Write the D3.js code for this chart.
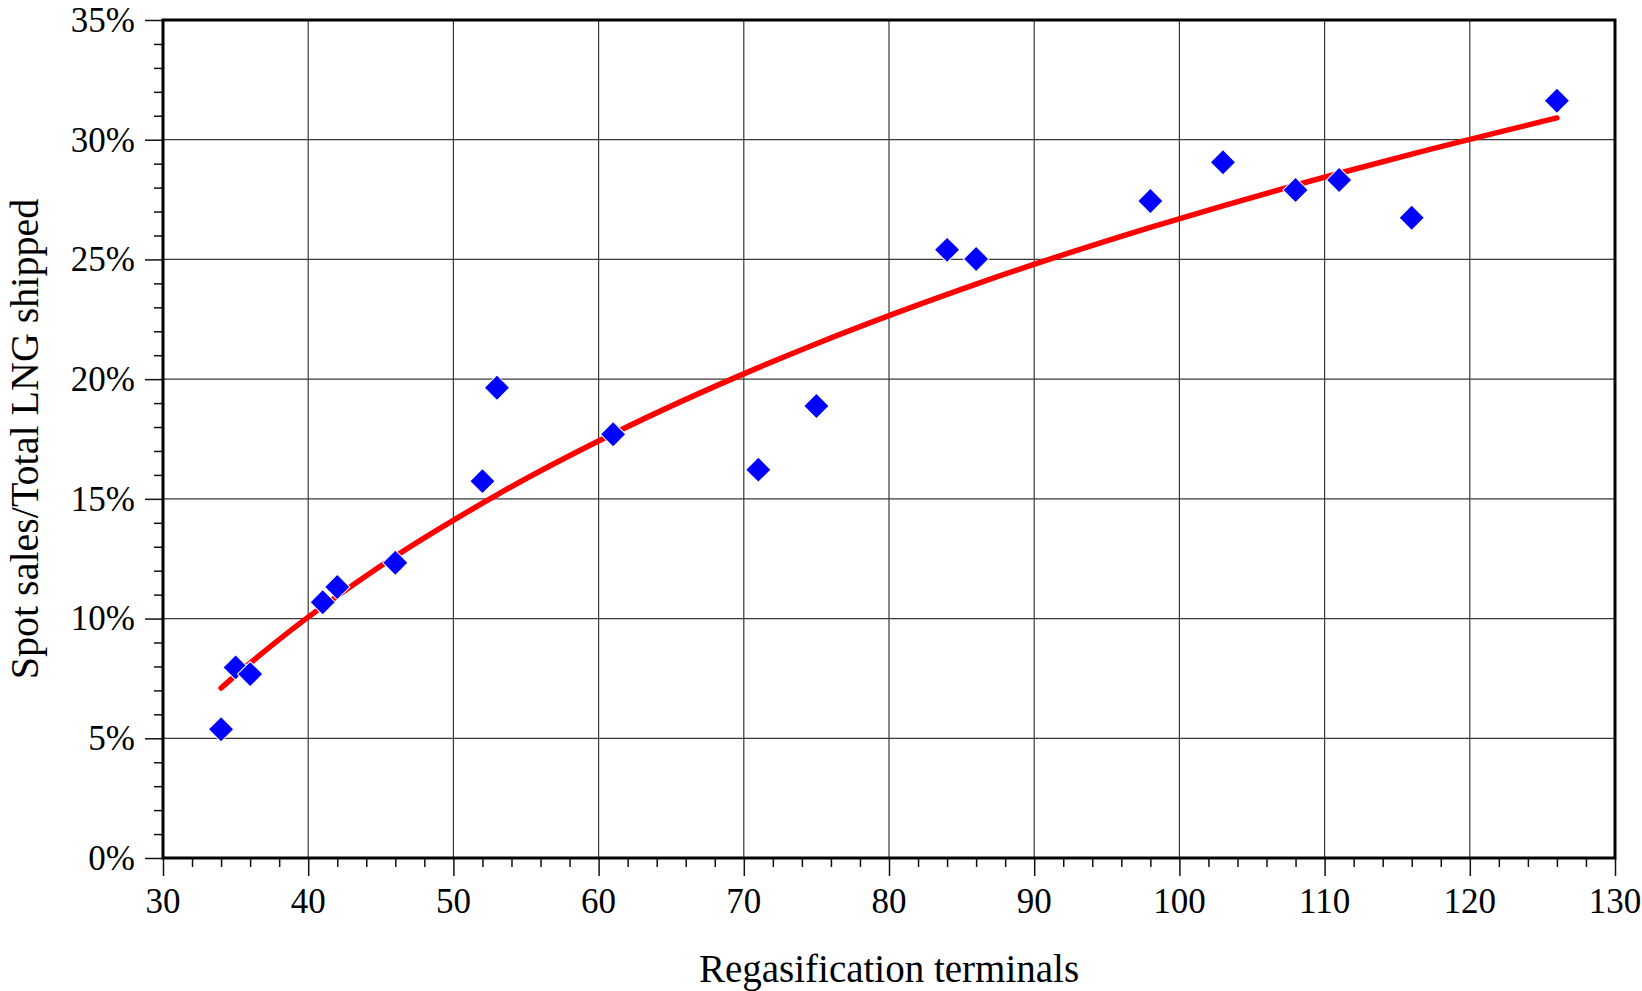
<!DOCTYPE html>
<html>
<head>
<meta charset="utf-8">
<script src="https://cdn.jsdelivr.net/npm/d3@7"></script>
<style>
  body { margin: 0; background: #fff; }
  text { font-family: "Palatino Linotype", "Book Antiqua", Palatino, "Liberation Serif", serif; fill: #000; }
</style>
</head>
<body>
<div id="chart"></div>
<script>
// scatter: regasification terminals vs spot share (%)
const terminals = [34, 35, 36, 41, 42, 46, 52, 53, 61, 71, 75, 84, 86, 98, 103, 108, 111, 116, 126];
const spotShare = [5.38, 7.96, 7.68, 10.68, 11.32, 12.33, 15.74, 19.64, 17.7, 16.22, 18.88, 25.4, 25.02, 27.44, 29.06, 27.9, 28.32, 26.74, 31.63];

// trend line
const trendX = [34, 35, 36, 41, 42, 46, 52, 53, 61, 71, 75, 84, 86, 98, 103, 108, 111, 116, 126];
const trendY = [7.1, 7.63, 8.14, 10.51, 10.94, 12.6, 14.82, 15.17, 17.72, 20.48, 21.48, 23.54, 23.97, 26.34, 27.24, 28.1, 28.6, 29.4, 30.91];

const xTicks = [30, 40, 50, 60, 70, 80, 90, 100, 110, 120, 130];
const yTicks = [0, 5, 10, 15, 20, 25, 30, 35];

const width = 1642, height = 991;
const margin = { top: 20, right: 27, bottom: 133, left: 163 };

const svg = d3.select('#chart').append('svg')
    .attr('width', width)
    .attr('height', height);

const x = d3.scaleLinear().domain([30, 130]).range([margin.left, width - margin.right]);
const y = d3.scaleLinear().domain([0, 35]).range([height - margin.bottom, margin.top]);

// grid
svg.append('g')
    .selectAll('line')
    .data(xTicks.slice(1, -1))
    .join('line')
    .attr('x1', d => x(d)).attr('x2', d => x(d))
    .attr('y1', y(0)).attr('y2', y(35))
    .attr('stroke', '#3a3a3a')
    .attr('stroke-width', 1.2);

svg.append('g')
    .selectAll('line')
    .data(yTicks.slice(1, -1))
    .join('line')
    .attr('x1', x(30)).attr('x2', x(130))
    .attr('y1', d => y(d)).attr('y2', d => y(d))
    .attr('stroke', '#3a3a3a')
    .attr('stroke-width', 1.2);

// axes
const xAxis = d3.axisBottom(x)
    .tickValues(d3.range(30, 131, 2))
    .tickSize(9)
    .tickFormat('');
svg.append('g')
    .attr('transform', `translate(0, ${y(0)})`)
    .call(xAxis)
    .call(g => g.select('.domain').remove())
    .call(g => g.selectAll('.tick line')
        .attr('stroke', '#111')
        .attr('stroke-width', 1.5)
        .attr('y2', d => d % 10 === 0 ? 18 : 9));

svg.append('g')
    .selectAll('text')
    .data(xTicks)
    .join('text')
    .attr('x', d => x(d))
    .attr('y', y(0) + 55)
    .attr('text-anchor', 'middle')
    .style('font-size', '35px')
    .text(d => d);

const yAxis = d3.axisLeft(y)
    .tickValues(d3.range(0, 36, 1))
    .tickSize(9)
    .tickFormat('');
svg.append('g')
    .attr('transform', `translate(${x(30)}, 0)`)
    .call(yAxis)
    .call(g => g.select('.domain').remove())
    .call(g => g.selectAll('.tick line')
        .attr('stroke', '#111')
        .attr('stroke-width', 1.5)
        .attr('x2', d => d % 5 === 0 ? -18 : -9));

svg.append('g')
    .selectAll('text')
    .data(yTicks)
    .join('text')
    .attr('x', x(30) - 28)
    .attr('y', d => y(d))
    .attr('dy', '0.34em')
    .attr('text-anchor', 'end')
    .style('font-size', '35px')
    .text(d => d + '%');

// frame
svg.append('rect')
    .attr('x', x(30))
    .attr('y', y(35))
    .attr('width', x(130) - x(30))
    .attr('height', y(0) - y(35))
    .attr('fill', 'none')
    .attr('stroke', '#000')
    .attr('stroke-width', 3);

// trend
const line = d3.line()
    .x(d => x(d[0]))
    .y(d => y(d[1]))
    .curve(d3.curveMonotoneX);

svg.append('path')
    .datum(d3.zip(trendX, trendY))
    .attr('d', line)
    .attr('fill', 'none')
    .attr('stroke', '#ff0000')
    .attr('stroke-width', 5.5)
    .attr('stroke-linecap', 'round');

// points
const diamond = d3.symbol().type(d3.symbolSquare).size(320);
svg.append('g')
    .selectAll('path')
    .data(d3.zip(terminals, spotShare))
    .join('path')
    .attr('d', diamond)
    .attr('transform', d => `translate(${x(d[0])}, ${y(d[1])}) rotate(45)`)
    .attr('fill', '#0000ff')
    .attr('stroke', '#fff')
    .attr('stroke-width', 1);

// axis titles
svg.append('text')
    .attr('x', (x(30) + x(130)) / 2)
    .attr('y', 982)
    .attr('text-anchor', 'middle')
    .style('font-size', '39px')
    .text('Regasification terminals');

svg.append('text')
    .attr('transform', `translate(38, ${(y(0) + y(35)) / 2}) rotate(-90)`)
    .attr('text-anchor', 'middle')
    .style('font-size', '40px')
    .text('Spot sales/Total LNG shipped');
</script>
</body>
</html>
